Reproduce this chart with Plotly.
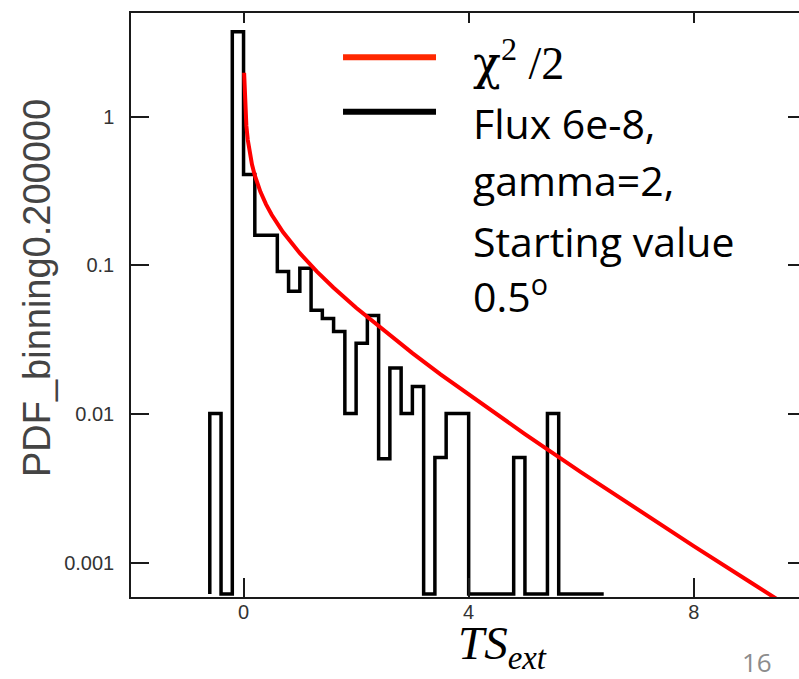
import plotly.graph_objects as go

# ---------------- data ----------------
# histogram of TS_ext (PDF, bin width 0.2), first bin starts at -0.6
bin_start = -0.6
bin_width = 0.2
pdf_values = [0.0101, 0.0, 3.75, 0.41, 0.16, 0.16, 0.091, 0.067, 0.096, 0.050,
              0.044, 0.036, 0.0101, 0.030, 0.046, 0.0050, 0.0204, 0.0101, 0.0153, 0.0,
              0.0051, 0.0101, 0.0101, 0.0, 0.0, 0.0, 0.0, 0.0051, 0.0, 0.0,
              0.0101, 0.0, 0.0, 0.0, 0.0]

# chi^2 / 2 reference curve
chi_x = [0.01, 0.02, 0.03, 0.05, 0.075, 0.1, 0.15, 0.2, 0.3, 0.4, 0.5, 0.7,
         1.0, 1.3, 1.6, 2.0, 2.5, 3.0, 3.5, 4.0, 5.0, 6.0, 7.0, 8.0, 9.0, 10.0]
chi_y = [1.985, 1.397, 1.135, 0.870, 0.702, 0.600, 0.478, 0.404, 0.3135, 0.258,
         0.2197, 0.168, 0.121, 0.0913, 0.0709, 0.0519, 0.0362, 0.0257, 0.0185,
         0.0135, 0.00732, 0.00405, 0.00228, 0.00129, 0.000739, 0.000425]

x_ticks = [0, 4, 8]
x_tick_labels = ["0", "4", "8"]
y_ticks = [1, 0.1, 0.01, 0.001]
y_tick_labels = ["1", "0.1", "0.01", "0.001"]

legend_labels = ["<span style='font-family:DejaVu Serif'>χ</span><sup>2</sup> /2",
                 "Flux 6e-8,", "gamma=2,", "Starting value", "0.5<sup>o</sup>"]
x_title = "<i>TS<sub>ext</sub></i>"
y_title = "PDF_binning0.200000"
slide_number = "16"

# ---------------- layout constants ----------------
X_RANGE = [-2.0, 9.87]
Y_RANGE = [-3.232, 0.700]
FLOOR = 10 ** (Y_RANGE[0] + 0.02)
FRAME = "#1a1a1a"
LABEL = "#333333"

# step outline of the histogram
edges = [bin_start + i * bin_width for i in range(len(pdf_values) + 1)]
hx, hy = [edges[0]], [FLOOR]
for i, v in enumerate(pdf_values):
    vv = v if v > 0 else FLOOR
    hx += [edges[i], edges[i + 1]]
    hy += [vv, vv]
hx.append(edges[-1])
hy.append(FLOOR)

fig = go.Figure()
fig.add_trace(go.Scatter(x=hx, y=hy, mode="lines",
                         line=dict(color="black", width=3.5),
                         hoverinfo="skip", showlegend=False))
fig.add_trace(go.Scatter(x=chi_x, y=chi_y, mode="lines",
                         line=dict(color="#ff0000", width=4),
                         hoverinfo="skip", showlegend=False))
# invisible trace to activate the mirrored (top / right) tick axes
fig.add_trace(go.Scatter(x=chi_x, y=chi_y, xaxis="x2", yaxis="y2", mode="lines",
                         line=dict(width=0), opacity=0, hoverinfo="skip",
                         showlegend=False))

tickfont = dict(family="Liberation Sans, Arial, sans-serif", size=20, color=LABEL)

fig.update_layout(
    width=799, height=679,
    margin=dict(l=131, r=0, t=13, b=82),
    paper_bgcolor="white", plot_bgcolor="white",
    showlegend=False,
    xaxis=dict(range=X_RANGE, showgrid=False, zeroline=False,
               showline=True, linecolor=FRAME, linewidth=1.5,
               ticks="inside", ticklen=19, tickwidth=1.5, tickcolor=FRAME,
               tickvals=x_ticks, ticktext=x_tick_labels, tickfont=tickfont,
               ticklabelstandoff=-4),
    yaxis=dict(type="log", range=Y_RANGE, showgrid=False, zeroline=False,
               showline=True, linecolor=FRAME, linewidth=1.5,
               ticks="inside", ticklen=18, tickwidth=1.5, tickcolor=FRAME,
               tickvals=y_ticks, ticktext=y_tick_labels, tickfont=tickfont,
               ticklabelstandoff=11),
    xaxis2=dict(overlaying="x", side="top", range=X_RANGE, showgrid=False,
                zeroline=False, showline=True, linecolor=FRAME, linewidth=1.5,
                ticks="inside", ticklen=10, tickwidth=1.5, tickcolor=FRAME,
                tickvals=x_ticks, showticklabels=False),
    yaxis2=dict(overlaying="y", side="right", type="log", range=Y_RANGE,
                showgrid=False, zeroline=False, showline=False,
                ticks="inside", ticklen=11, tickwidth=1.5, tickcolor=FRAME,
                tickvals=y_ticks, showticklabels=False),
)

# legend samples
fig.add_shape(type="line", xref="paper", yref="paper", x0=0.3174, x1=0.4566,
              y0=0.9241, y1=0.9241, line=dict(color="#ff2800", width=6))
fig.add_shape(type="line", xref="paper", yref="paper", x0=0.3174, x1=0.4566,
              y0=0.831, y1=0.831, line=dict(color="black", width=6))

# legend texts
fig.add_annotation(text=legend_labels[0], xref="paper", yref="paper",
                   x=0.509, y=0.918, xanchor="left", yanchor="middle", showarrow=False,
                   font=dict(family="Liberation Serif, Times New Roman, serif", size=46, color="black"))
sans = "Open Sans, Lato, sans-serif"
for txt, yy in zip(legend_labels[1:], [0.812, 0.7143, 0.6096, 0.5188]):
    fig.add_annotation(text=txt, xref="paper", yref="paper", x=0.509, y=yy,
                       xanchor="left", yanchor="middle", showarrow=False,
                       font=dict(family=sans, size=41, color="black"))

# axis titles
fig.add_annotation(text=x_title, xref="paper", yref="paper", x=0.5554, y=-0.085,
                   xanchor="center", yanchor="middle", showarrow=False,
                   font=dict(family="Liberation Serif, Times New Roman, serif", size=47, color="black"))
fig.add_annotation(text=y_title, xref="paper", yref="paper", x=-0.1407, y=0.529,
                   xanchor="center", yanchor="middle", textangle=-90, showarrow=False,
                   font=dict(family="Liberation Sans, Arial, sans-serif", size=38, color="#444444"))
fig.add_annotation(text=slide_number, xref="paper", yref="paper", x=0.937, y=-0.111,
                   xanchor="center", yanchor="middle", showarrow=False,
                   font=dict(family=sans, size=26, color="#8c8c8c"))

fig.write_html("out.html")
